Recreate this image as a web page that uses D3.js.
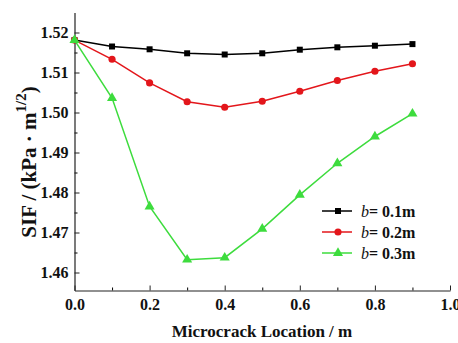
<!DOCTYPE html>
<html>
<head>
<meta charset="utf-8">
<script src="https://cdn.jsdelivr.net/npm/d3@7"></script>
<style>
  html, body { margin: 0; padding: 0; background: #fff; }
  svg text { font-family: "Liberation Serif", "Times New Roman", serif; }
</style>
</head>
<body>
<div id="chart"></div>
<script>
// data
const locations = [0.0, 0.1, 0.2, 0.3, 0.4, 0.5, 0.6, 0.7, 0.8, 0.9];
const sifB01 = [1.5181, 1.5165, 1.5158, 1.5148, 1.5145, 1.5148, 1.5157, 1.5163, 1.5167, 1.5171];
const sifB02 = [1.5181, 1.5133, 1.5074, 1.5027, 1.5013, 1.5028, 1.5053, 1.5080, 1.5103, 1.5122];
const sifB03 = [1.5181, 1.5036, 1.4765, 1.4632, 1.4637, 1.4709, 1.4794, 1.4873, 1.4940, 1.4997];
const seriesNames = ['0.1m', '0.2m', '0.3m'];
const xTicks = [0.0, 0.2, 0.4, 0.6, 0.8, 1.0];
const yTicks = [1.46, 1.47, 1.48, 1.49, 1.50, 1.51, 1.52];

const FONT = '"Liberation Serif", "Times New Roman", serif';
const W = 458, H = 343;
const svg = d3.select('#chart').append('svg')
  .attr('width', W).attr('height', H)
  .attr('font-family', FONT);

// plot area
const plot = { left: 74.5, right: 450, top: 12.5, bottom: 290.5 };
const x = d3.scaleLinear().domain([0, 1]).range([plot.left, plot.right]);
const y = d3.scaleLinear().domain([1.4555, 1.525]).range([plot.bottom, plot.top]);

// minor ticks first
svg.append('g')
  .attr('transform', `translate(0,${plot.bottom})`)
  .call(d3.axisBottom(x).tickValues(d3.range(0.1, 1.0, 0.2)).tickSizeInner(-3).tickSizeOuter(0).tickFormat(''))
  .call(g => g.select('.domain').remove());
svg.append('g')
  .attr('transform', `translate(${plot.left},0)`)
  .call(d3.axisLeft(y).tickValues(d3.range(1.465, 1.525, 0.01)).tickSizeInner(-3).tickSizeOuter(0).tickFormat(''))
  .call(g => g.select('.domain').remove());

// major axes
const xAxis = svg.append('g')
  .attr('transform', `translate(0,${plot.bottom})`)
  .call(d3.axisBottom(x).tickValues(xTicks).tickSizeInner(-5).tickSizeOuter(0).tickPadding(8).tickFormat(d3.format('.1f')));
const yAxis = svg.append('g')
  .attr('transform', `translate(${plot.left},0)`)
  .call(d3.axisLeft(y).tickValues(yTicks).tickSizeInner(-5).tickSizeOuter(0).tickPadding(6).tickFormat(d3.format('.2f')));

[xAxis, yAxis].forEach(ax => {
  ax.attr('font-family', FONT);
  ax.selectAll('text')
    .style('font-family', FONT)
    .style('font-weight', 'bold')
    .style('font-size', '16px')
    .attr('fill', '#111');
  ax.selectAll('line').attr('stroke', '#222');
  ax.select('.domain').attr('stroke', '#222').attr('stroke-width', 1.2);
});

// axis titles
svg.append('text')
  .attr('x', 262)
  .attr('y', 337)
  .attr('text-anchor', 'middle')
  .style('font-family', FONT)
  .style('font-weight', 'bold')
  .style('font-size', '17px')
  .attr('fill', '#111')
  .text('Microcrack Location / m');

const yTitle = svg.append('text')
  .attr('transform', 'translate(36,162) rotate(-90)')
  .attr('text-anchor', 'middle')
  .style('font-family', FONT)
  .style('font-weight', 'bold')
  .style('font-size', '21px')
  .attr('fill', '#111');
yTitle.append('tspan').text('SIF / (kPa \u00b7 m');
yTitle.append('tspan').attr('dy', -10).style('font-size', '15px').text('1/2');
yTitle.append('tspan').attr('dy', 10).text(')');

// series
const series = [
  { name: seriesNames[0], values: sifB01, color: '#000000', symbol: d3.symbolSquare, size: 36 },
  { name: seriesNames[1], values: sifB02, color: '#e3161b', symbol: d3.symbolCircle, size: 40 },
  { name: seriesNames[2], values: sifB03, color: '#3ddc3d', symbol: d3.symbolTriangle, size: 44 }
];

const line = d3.line()
  .x((d, i) => x(locations[i]))
  .y(d => y(d));

series.forEach(s => {
  svg.append('path')
    .datum(s.values)
    .attr('fill', 'none')
    .attr('stroke', s.color)
    .attr('stroke-width', 1.5)
    .attr('d', line);
  svg.append('g').selectAll('path')
    .data(s.values)
    .join('path')
    .attr('transform', (d, i) => `translate(${x(locations[i])},${y(d)})`)
    .attr('d', d3.symbol().type(s.symbol).size(s.size))
    .attr('fill', s.color);
});

// legend
const legend = svg.append('g').attr('transform', 'translate(322,211)');
series.forEach((s, i) => {
  const row = legend.append('g').attr('transform', `translate(0,${i * 21})`);
  row.append('line')
    .attr('x1', 0).attr('x2', 30)
    .attr('stroke', s.color).attr('stroke-width', 1.5);
  row.append('path')
    .attr('transform', 'translate(16,0)')
    .attr('d', d3.symbol().type(s.symbol).size(s.size))
    .attr('fill', s.color);
  const t = row.append('text')
    .attr('x', 39).attr('y', 5.5)
    .style('font-family', FONT)
    .style('font-size', '16px')
    .attr('fill', '#111');
  t.append('tspan').style('font-style', 'italic').text('b');
  t.append('tspan').style('font-weight', 'bold').text('= ' + s.name);
});
</script>
</body>
</html>
